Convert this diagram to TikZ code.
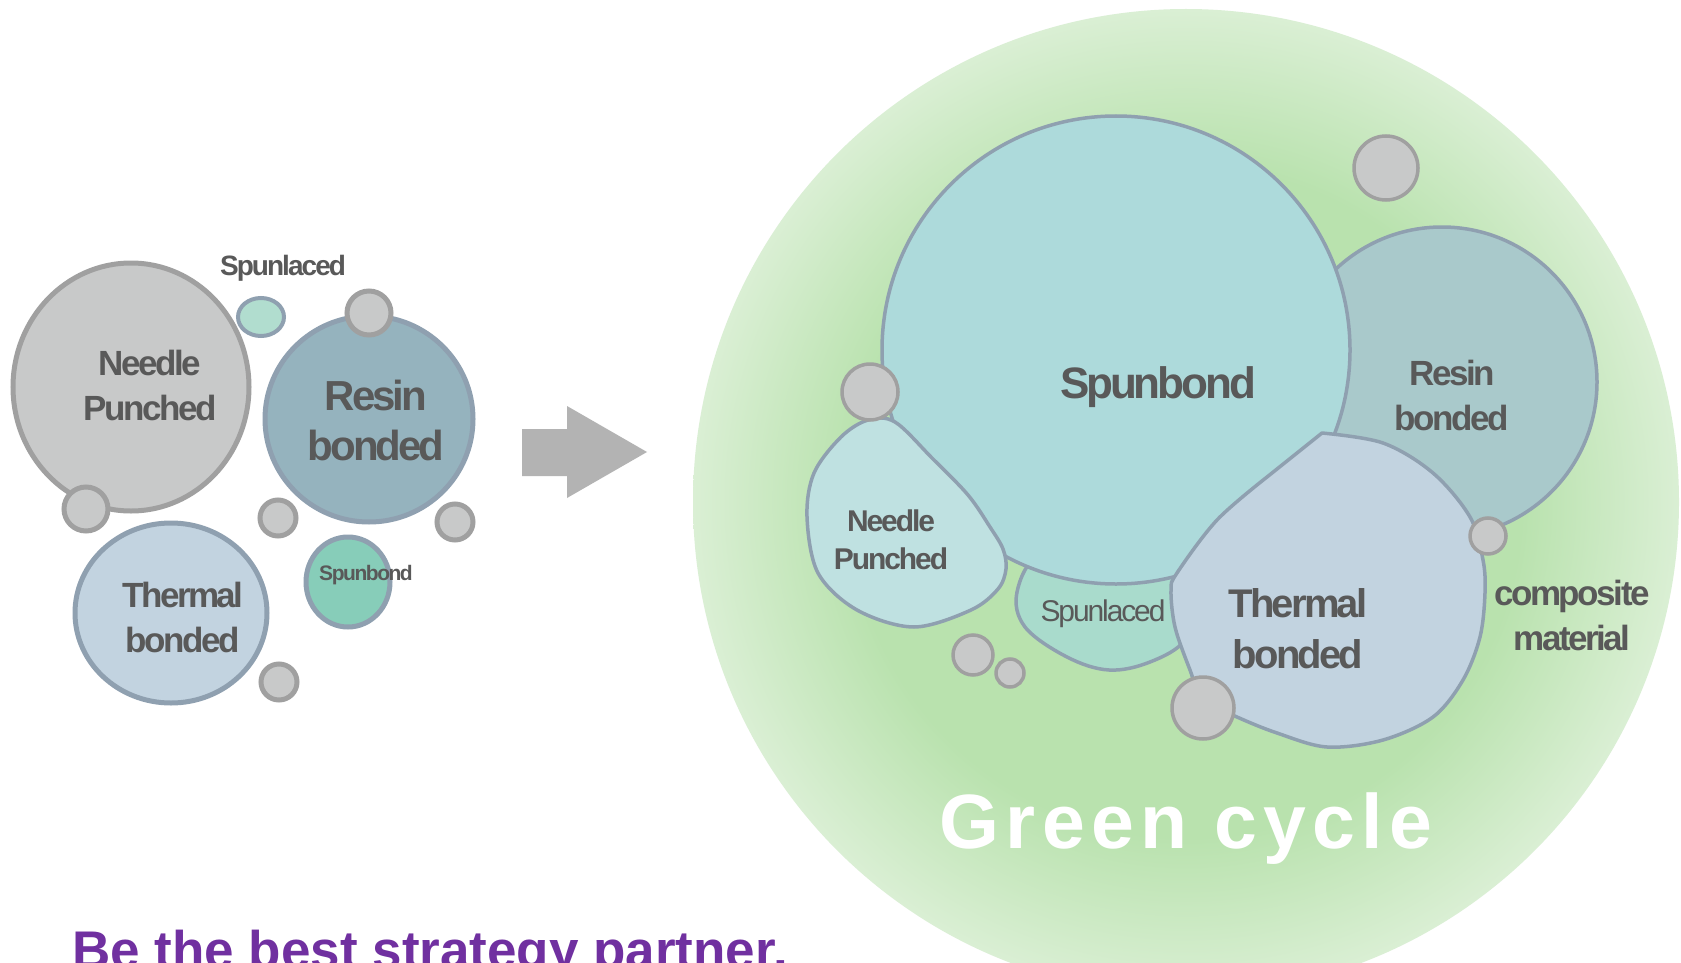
\documentclass[tikz,border=0pt]{standalone}
\usepackage{fontspec}
\setmainfont{Liberation Sans}
\newfontfamily\lblfont[LetterSpace=-7]{Liberation Sans}
\newfontfamily\gcfont[LetterSpace=8]{Liberation Sans}
\definecolor{txtgray}{HTML}{595959}
\definecolor{dotfill}{HTML}{C8C9C9}
\definecolor{dotline}{HTML}{A0A0A0}
\definecolor{blueline}{HTML}{8FA0B0}
\definecolor{lneedle}{HTML}{C8C9C9}
\definecolor{lresin}{HTML}{95B3BE}
\definecolor{lthermal}{HTML}{C2D3E0}
\definecolor{lspunbond}{HTML}{87CDB9}
\definecolor{lspunlaced}{HTML}{B1DDCF}
\definecolor{rspunbond}{HTML}{ADDADB}
\definecolor{rresin}{HTML}{A9C9CB}
\definecolor{rthermal}{HTML}{C2D3E0}
\definecolor{rneedle}{HTML}{BFE1E1}
\definecolor{rspunlaced}{HTML}{A9DBCC}
\definecolor{arrowgray}{HTML}{B3B3B3}
\definecolor{purp}{HTML}{7030A0}
\definecolor{gin}{HTML}{B9E2AE}
\definecolor{gout}{HTML}{DAEFD4}
\pgfdeclareradialshading{greenball}{\pgfpoint{0bp}{0bp}}{color(0bp)=(gin);color(17bp)=(gin);color(25bp)=(gout);color(50bp)=(gout)}
\tikzset{
  lbl/.style={text=txtgray, inner sep=0pt, anchor=base, font=\lblfont\bfseries\fontsize{#1}{#1}\selectfont},
  lblreg/.style={text=txtgray, inner sep=0pt, anchor=base, font=\lblfont\fontsize{#1}{#1}\selectfont},
  lshape/.style={draw=blueline, line width=5pt, fill=#1},
  rshape/.style={draw=blueline, line width=3.5pt, fill=#1, line join=round},
  dotL/.style={draw=dotline, fill=dotfill, line width=5pt},
  dotR/.style={draw=dotline, fill=dotfill, line width=3.5pt},
}
\begin{document}
\begin{tikzpicture}[x=1pt,y=-1pt]
\useasboundingbox (0,0) rectangle (1681,963);
\clip (0,0) rectangle (1681,963);
\fill[white] (0,0) rectangle (1681,963);
% big green disc
\shade[shading=greenball] (1186,502) circle [radius=493pt];

% ---------- left cluster ----------
\draw[draw=dotline, line width=5pt, fill=lneedle] (131,387) ellipse [x radius=118pt, y radius=124pt];
\draw[lshape=lresin] (369,419) ellipse [x radius=104pt, y radius=103pt];
\draw[lshape=lthermal] (171,613) ellipse [x radius=96pt, y radius=90pt];
\draw[lshape=lspunbond] (348,582) ellipse [x radius=42pt, y radius=45pt];
\draw[draw=blueline, line width=4pt, fill=lspunlaced] (261,317) ellipse [x radius=23pt, y radius=19pt];
\draw[dotL] (369,313) circle [radius=22pt];
\draw[dotL] (86,509) circle [radius=22pt];
\draw[dotL] (278,518) circle [radius=18pt];
\draw[dotL] (455,522) circle [radius=18pt];
\draw[dotL] (279,682) circle [radius=18pt];

\node[lbl=28] (lspl) at (283,275) {Spunlaced};
\node[lbl=35] (lnp1) at (150,375.5) {Needle};
\node[lbl=35] (lnp2) at (150,420.5) {Punched};
\node[lbl=42] (lrb1) at (376,410.7) {Resin};
\node[lbl=42] (lrb2) at (376,460.7) {bonded};
\node[lbl=35] (ltb1) at (183,607.7) {Thermal};
\node[lbl=35] (ltb2) at (183,652.7) {bonded};
\node[lbl=21] (lsb) at (366,580) {Spunbond};

% ---------- block arrow ----------
\fill[arrowgray] (522,429) -- (567,429) -- (567,406) -- (647,452) -- (567,498) -- (567,476) -- (522,476) -- cycle;

% ---------- right cluster ----------
\draw[rshape=rresin] (1442,382) circle [radius=155pt];
\draw[rshape=rspunlaced] plot[smooth cycle, tension=0.6] coordinates {(1040,555) (1017,592) (1025,627) (1067,657) (1109,670) (1150,662) (1185,640) (1195,600) (1160,560) (1100,555)};
\draw[rshape=rspunbond] (1116,350) circle [radius=234pt];
\draw[rshape=rneedle] plot[smooth cycle, tension=0.55] coordinates {(868,420) (895,422) (932,458) (968,495) (990,527) (1003,549) (1006,569) (998,589) (971,610) (914,627) (857,610) (818,573) (807,517) (814,473) (841,437)};
\draw[rshape=rthermal] plot[smooth, tension=0.55] coordinates {(1322,433) (1383,443) (1433,473) (1470,517) (1483,560) (1485,593) (1480,637) (1463,680) (1433,717) (1383,740) (1327,747) (1277,733) (1237,717) (1203,700) (1190,670) (1175,627) (1171,590) (1177,573) (1217,520) (1267,477)} -- cycle;

\draw[dotR] (870,392) circle [radius=28pt];
\draw[dotR] (1386,168) circle [radius=32pt];
\draw[dotR] (1488,536) circle [radius=18pt];
\draw[dotR] (1203,708) circle [radius=31pt];
\draw[dotR] (973,655) circle [radius=20pt];
\draw[dotR] (1010,673) circle [radius=14pt];

\node[lbl=44] (rsb) at (1158,398) {Spunbond};
\node[lbl=35] (rrb1) at (1452,385) {Resin};
\node[lbl=35] (rrb2) at (1452,430) {bonded};
\node[lbl=30] (rnp1) at (891,531.7) {Needle};
\node[lbl=30] (rnp2) at (891,569) {Punched};
\node[lblreg=30] (rspl) at (1103,621.7) {Spunlaced};
\node[lbl=40] (rtb1) at (1298,617) {Thermal};
\node[lbl=40] (rtb2) at (1298,668) {bonded};
\node[lbl=35] (rcm1) at (1572,605) {composite};
\node[lbl=35] (rcm2) at (1572,650) {material};

\node[anchor=base, inner sep=0pt, text=white, font=\gcfont\bfseries\fontsize{77}{77}\selectfont] (gc) at (1186,848) {Green cycle};
\node[anchor=base west, inner sep=0pt, text=purp, font=\bfseries\fontsize{53}{53}\selectfont] (slogan) at (72,968) {Be the best strategy partner.};
\end{tikzpicture}
\end{document}
